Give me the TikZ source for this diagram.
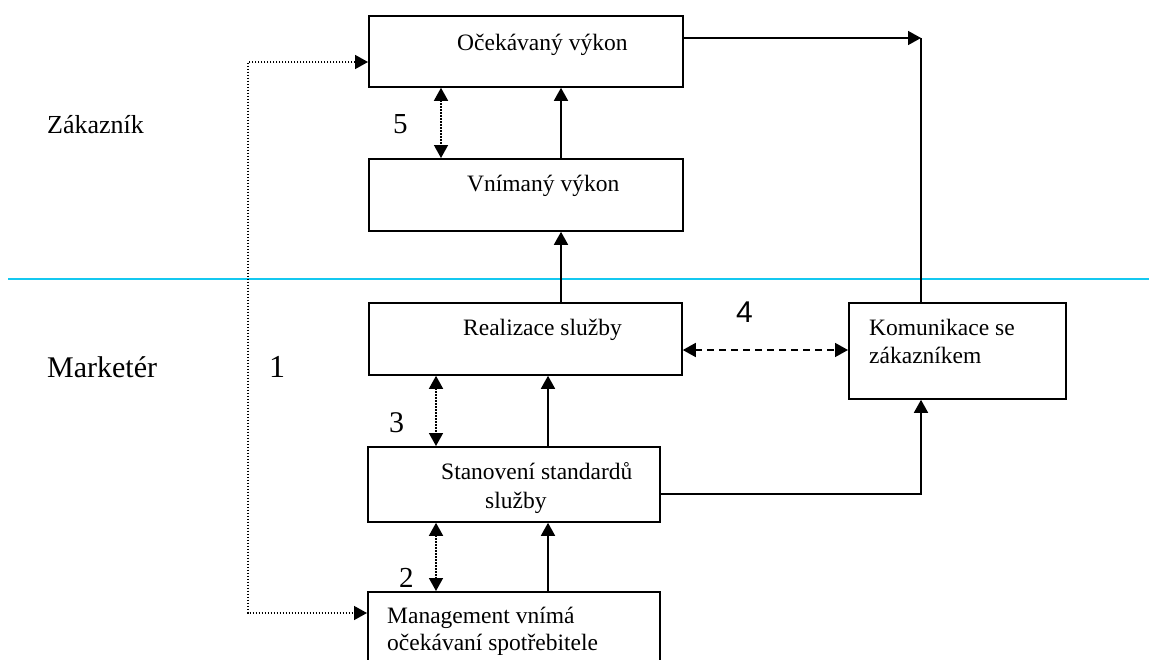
\documentclass[tikz,border=0pt]{standalone}
\usepackage{fontspec}
\setmainfont{Liberation Serif}
\newfontfamily\gapsans{Liberation Sans}
\usetikzlibrary{arrows.meta}
\definecolor{dividercol}{RGB}{20,200,240}

\begin{document}
\begin{tikzpicture}[x=1pt,y=-1pt,
  Head/.tip={Triangle[length=13pt,width=14pt]},
  box/.style={draw, line width=1.8pt, inner sep=0pt, anchor=north west},
  txt/.style={inner sep=0pt, anchor=base west, font=\fontsize{23.5}{28}\selectfont},
  solidline/.style={line width=1.6pt},
  dotline/.style={line width=1.5pt, dash pattern=on 1.5pt off 1.5pt},
  dashline/.style={line width=1.6pt, dash pattern=on 7pt off 5pt},
  divider/.style={line width=2pt, draw=dividercol}
]
\useasboundingbox (0,0) rectangle (1149,659);
\clip (0,0) rectangle (1149,659);
\fill[white] (0,0) rectangle (1149,659);

% customer / marketer divider
\coordinate (dl) at (8,278.5);
\coordinate (dr) at (1149,278.5);
\draw[divider] (dl) -- (dr);

% boxes
\node[box, minimum width=314pt, minimum height=71pt] (oc) at (368,15) {};
\node[box, minimum width=314pt, minimum height=72pt] (vn) at (368,158) {};
\node[box, minimum width=313pt, minimum height=72pt] (re) at (368,302) {};
\node[box, minimum width=217pt, minimum height=96pt] (ko) at (848,302) {};
\node[box, minimum width=292pt, minimum height=75pt] (st) at (367,446) {};
\node[box, minimum width=292pt, minimum height=76pt] (mg) at (367,591) {};

% box texts
\node[txt] (ocT) at (457,50) {Očekávaný výkon};
\node[txt] (vnT) at (467,191) {Vnímaný výkon};
\node[txt] (reT) at (463,335) {Realizace služby};
\node[txt] (koT1) at (869,335) {Komunikace se};
\node[txt] (koT2) at (869,363) {zákazníkem};
\node[txt] (stT1) at (441,479) {Stanovení standardů};
\node[txt] (stT2) at (485,508) {služby};
\node[txt] (mgT1) at (387,623) {Management vnímá};
\node[txt] (mgT2) at (387,650) {očekávaní spotřebitele};

% side labels
\node[txt, font=\fontsize{26}{30}\selectfont] (zak) at (47,133) {Zákazník};
\node[txt, font=\fontsize{30}{36}\selectfont] (mkt) at (47,377) {Marketér};

% gap numbers
\node[txt, font=\fontsize{32}{38}\selectfont] (g1) at (269,377) {1};
\node[txt, font=\fontsize{29}{34}\selectfont] (g2) at (399,587) {2};
\node[txt, font=\fontsize{30}{36}\selectfont] (g3) at (389,432) {3};
\node[txt, font=\gapsans\fontsize{30}{36}\selectfont] (g4) at (736,322) {4};
\node[txt, font=\fontsize{29}{34}\selectfont] (g5) at (393,133) {5};

% helper points
\coordinate (c1) at (921,38);
\coordinate (c2) at (921,494);
\coordinate (d1) at (248,62);
\coordinate (d2) at (248,613);
\coordinate (m4) at ([yshift=-48pt]re.north east);

% solid upward flow
\draw[solidline,-Head] ([xshift=193pt]vn.north west) -- ([xshift=193pt]oc.south west);
\draw[solidline,-Head] ([xshift=193pt]re.north west) -- ([xshift=193pt]vn.south west);
\draw[solidline,-Head] ([xshift=181pt]st.north west) -- ([xshift=180pt]re.south west);
\draw[solidline,-Head] ([xshift=181pt]mg.north west) -- ([xshift=181pt]st.south west);

% gaps 5, 3, 2
\draw[dotline,Head-Head] ([xshift=73pt]oc.south west) -- ([xshift=73pt]vn.north west);
\draw[dotline,Head-Head] ([xshift=68pt]re.south west) -- ([xshift=69pt]st.north west);
\draw[dotline,Head-Head] ([xshift=69pt]st.south west) -- ([xshift=69pt]mg.north west);

% gap 1
\draw[dotline,Head-Head] (oc.west |- d1) -- (d1) -- (d2) -- (mg.west |- d2);

% gap 4
\draw[dashline,Head-Head] (m4) -- (m4 -| ko.west);

% communication links
\draw[solidline,-Head] (oc.east |- c1) -- (c1);
\draw[solidline] (ko.north -| c1) -- (c1);
\draw[solidline,-Head] (st.east |- c2) -- (c2) -- (ko.south -| c2);
\end{tikzpicture}
\end{document}
